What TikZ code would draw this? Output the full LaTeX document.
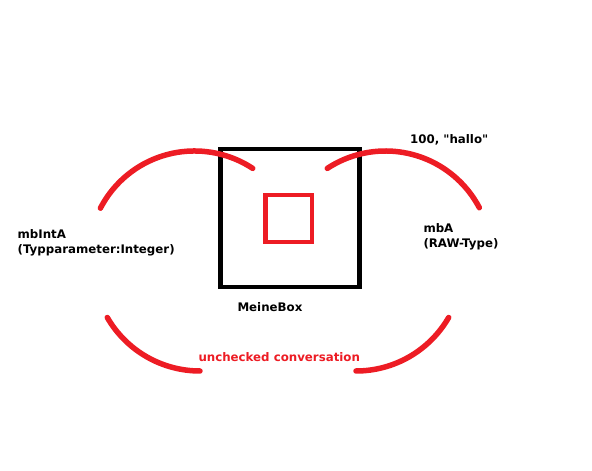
\documentclass[tikz,border=0pt]{standalone}
\usepackage{fontspec}
\newfontfamily\paintfont{DejaVu Sans}
\definecolor{paintred}{HTML}{ED1C24}

\begin{document}
\begin{tikzpicture}[x=1pt, y=1pt,
    lbl/.style={anchor=base west, inner sep=0pt, align=left, font=\paintfont\bfseries\fontsize{11.8}{15.7}\selectfont},
    redarc/.style={draw=paintred, line width=5.5pt, line cap=round}]
          \fill[white] (0,0) rectangle (592,471);
          \useasboundingbox (0,0) rectangle (592,471);
          % Box and inner square
          \draw[line width=4.5pt] (220.5,184) rectangle (359.5,322);
          \draw[paintred, line width=4.5pt] (265.5,229) rectangle (312,276);
          % arcs
          \draw[redarc] (100.4,262.8) arc[start angle=152.6, end angle=56.7, radius=106];
          \draw[redarc] (327.3,302.6) arc[start angle=123.3, end angle=27.7, radius=106];
          \draw[redarc] (107.3,153.5) arc[start angle=210, end angle=270, radius=107];
          \draw[redarc] (356,100) arc[start angle=270, end angle=330, radius=107];
          %
          \node[lbl] (intA) at (17.5, 217) {mbIntA\\(Typparameter:Integer)};
          \node[lbl] (values) at (410, 327.7) {100, "hallo"};
          \node[lbl] (rawA) at (423.3, 223) {mbA\\(RAW-Type)};
          \node[lbl] (box) at (237.3, 159.3) {MeineBox};
          \node[lbl, text=paintred] (conv) at (198.3, 109.3) {unchecked conversation};
        \end{tikzpicture}
\end{document}
